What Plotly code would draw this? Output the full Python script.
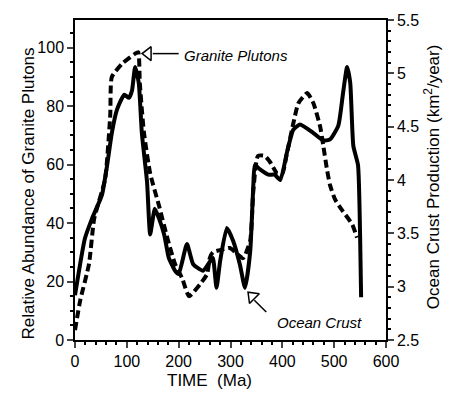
import plotly.graph_objects as go

# Granite plutons (left axis, relative abundance)
granite_x = [0, 10, 27, 37, 58, 68, 71, 91, 116, 122, 125, 133, 145, 162, 178, 193, 207, 220,
             241, 255, 260, 266, 285, 299, 324, 338, 344, 353, 366, 376, 390, 400, 409, 421,
             431, 448, 460, 473, 479, 486, 492, 502, 517, 535, 544]
granite_y = [3.4, 13.5, 26, 41.5, 55, 77, 90, 94.6, 98, 98.5, 88, 71, 57, 46, 35, 26, 21, 15,
             19, 22.6, 28, 30, 31, 31.5, 28, 34, 51, 63, 63, 61, 57, 57, 64, 74,
             81, 84.5, 81, 73, 66.5, 58.5, 53, 48, 44, 39.5, 35]

# Ocean crust production (right axis, km^2/year)
crust_x = [0, 19, 33, 52, 62, 71, 81, 95, 104, 110, 116, 123, 129, 139, 145, 154, 162, 172,
           181, 193, 200, 216, 228, 247, 261, 266, 273, 280, 293, 305, 318, 328, 338, 344,
           347, 357, 373, 385, 396, 409, 421, 434, 460, 479, 492, 508, 517, 525, 531, 537,
           546, 550, 552]
crust_y = [2.92, 3.45, 3.64, 3.86, 4.14, 4.44, 4.66, 4.80, 4.77, 4.84, 5.06, 4.91, 4.44, 3.98,
           3.49, 3.73, 3.64, 3.49, 3.27, 3.15, 3.12, 3.40, 3.21, 3.15, 3.24, 3.27, 2.99, 3.24,
           3.55, 3.43, 3.21, 2.99, 3.33, 3.95, 4.14, 4.10, 4.05, 4.05, 4.0, 4.26, 4.47, 4.52,
           4.44, 4.37, 4.38, 4.51, 4.81, 5.06, 4.91, 4.32, 4.14, 3.49, 2.9]

x_ticks = [0, 100, 200, 300, 400, 500, 600]
left_ticks = [0, 20, 40, 60, 80, 100]
right_ticks = [2.5, 3, 3.5, 4, 4.5, 5, 5.5]
right_labels = ["2.5", "3", "3.5", "4", "4.5", "5", "5.5"]

FONT = "Liberation Sans, Arial, Helvetica, sans-serif"

fig = go.Figure()
fig.add_trace(go.Scatter(x=granite_x, y=granite_y, mode="lines",
                         line=dict(color="black", width=4, dash="8px,4px", shape="spline", smoothing=0.5),
                         showlegend=False, hoverinfo="skip"))
fig.add_trace(go.Scatter(x=crust_x, y=crust_y, mode="lines", yaxis="y2",
                         line=dict(color="black", width=4, shape="spline", smoothing=0.5),
                         showlegend=False, hoverinfo="skip"))

# open arrowheads for the labels
fig.add_trace(go.Scatter(x=[141], y=[98], mode="markers",
                         marker=dict(symbol="triangle-left-open", size=12, color="black",
                                     line=dict(width=1.5, color="black")),
                         showlegend=False, hoverinfo="skip"))
fig.add_trace(go.Scatter(x=[342], y=[14.9], mode="markers",
                         marker=dict(symbol="triangle-up-open", angle=-45, size=12, color="black",
                                     line=dict(width=1.5, color="black")),
                         showlegend=False, hoverinfo="skip"))

fig.update_layout(
    width=451, height=399,
    margin=dict(l=75, r=65, t=16, b=59),
    paper_bgcolor="white", plot_bgcolor="white",
    font=dict(family=FONT, size=16, color="black"),
    xaxis=dict(range=[0, 600], tickvals=x_ticks, ticks="outside", ticklen=6, tickwidth=1.5,
               showline=True, linecolor="black", linewidth=1.5, mirror=True,
               showgrid=False, zeroline=False,
               minor=dict(dtick=20, ticks="outside", ticklen=3, tickcolor="black"),
               tickfont=dict(size=16)),
    yaxis=dict(range=[0, 109.5], tickvals=left_ticks, ticks="outside", ticklen=6, tickwidth=1.5,
               showline=True, linecolor="black", linewidth=1.5,
               showgrid=False, zeroline=False,
               minor=dict(dtick=5, ticks="outside", ticklen=3, tickcolor="black"),
               tickfont=dict(size=16)),
    yaxis2=dict(range=[2.5, 5.5], tickvals=right_ticks, ticktext=right_labels,
                overlaying="y", side="right", ticks="outside", ticklen=6, tickwidth=1.5,
                showline=True, linecolor="black", linewidth=1.5,
                showgrid=False, zeroline=False,
                minor=dict(dtick=0.1, ticks="outside", ticklen=3, tickcolor="black"),
                tickfont=dict(size=16)),
    shapes=[
        dict(type="line", xref="x", yref="y", x0=150, y0=98, x1=200, y1=98,
             line=dict(color="black", width=1.5)),
        dict(type="line", xref="x", yref="y", x0=346, y0=13.6, x1=369, y1=9.6,
             line=dict(color="black", width=1.5)),
    ],
    annotations=[
        dict(x=206, y=97.3, xref="x", yref="y", text="<i>Granite Plutons</i>",
             xanchor="left", yanchor="middle", showarrow=False, font=dict(size=15)),
        dict(x=386, y=6.1, xref="x", yref="y", text="<i>Ocean Crust</i>",
             xanchor="left", yanchor="middle", showarrow=False, font=dict(size=15)),
        dict(x=0.431, y=-0.127, xref="paper", yref="paper", text="TIME  (Ma)",
             xanchor="center", yanchor="middle", showarrow=False, font=dict(size=17)),
        dict(x=-0.151, y=0.458, xref="paper", yref="paper", textangle=-90,
             xanchor="center", yanchor="middle",
             text="Relative Abundance of Granite Plutons",
             showarrow=False, font=dict(size=17)),
        dict(x=1.148, y=0.509, xref="paper", yref="paper", textangle=-90,
             xanchor="center", yanchor="middle",
             text="Ocean Crust Production (km<sup>2</sup>/year)",
             showarrow=False, font=dict(size=17)),
    ],
)

fig.write_html("out.html")
